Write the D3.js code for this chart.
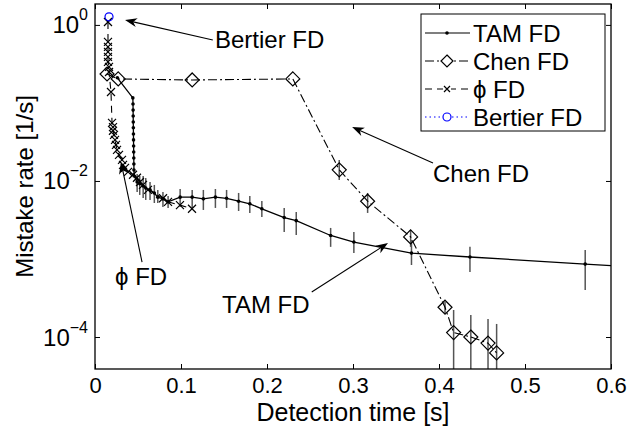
<!DOCTYPE html>
<html>
<head>
<meta charset="utf-8">
<script src="https://cdn.jsdelivr.net/npm/d3@7"></script>
<style>
  body { margin: 0; background: #fff; }
  text { font-family: "Liberation Sans", Arial, sans-serif; fill: #000; }
</style>
</head>
<body>
<svg id="chart" width="628" height="429"></svg>
<script>
// TAM FD (solid line, dots); the first points have no error bars
var tamX = [0.026, 0.044, 0.0442, 0.0443, 0.0444, 0.0445, 0.0446, 0.0447, 0.0448, 0.0449, 0.045, 0.0451, 0.0452, 0.0453, 0.0455,
    0.049, 0.052, 0.056, 0.059, 0.064, 0.069, 0.073, 0.079, 0.085,
    0.099, 0.113, 0.126, 0.140, 0.153, 0.167, 0.180, 0.194,
    0.220, 0.234, 0.274, 0.301, 0.368, 0.436, 0.570, 0.650];
var tamY = [0.21, 0.116, 0.097, 0.081, 0.068, 0.057, 0.048, 0.040, 0.0336, 0.028, 0.0235, 0.0197, 0.0165, 0.0138, 0.0116,
    0.0097, 0.0092, 0.0086, 0.0081, 0.0077, 0.0070, 0.0062, 0.0059, 0.0054,
    0.0062, 0.0062, 0.0059, 0.0062, 0.0060, 0.0055, 0.0051, 0.0044,
    0.0034, 0.0031, 0.0020, 0.00165, 0.00119, 0.00106, 0.00086, 0.00076];
var tamBarX = [0.049, 0.052, 0.056, 0.059, 0.064, 0.069, 0.073, 0.079, 0.085, 0.099, 0.113, 0.126,
    0.140, 0.153, 0.167, 0.180, 0.194, 0.220, 0.234, 0.274, 0.301, 0.368, 0.436, 0.570];
var tamHi = [0.0123, 0.0116, 0.0116, 0.0109, 0.0097, 0.00889, 0.00767, 0.00723, 0.00643, 0.00789, 0.00767, 0.00767,
    0.00789, 0.00767, 0.00702, 0.00643, 0.00554, 0.00451, 0.00401, 0.00250, 0.00222, 0.00175, 0.00143, 0.00130];
var tamLo = [0.00723, 0.00662, 0.00605, 0.00571, 0.00571, 0.00522, 0.00522, 0.00464, 0.00451, 0.00464, 0.00451, 0.00425,
    0.00451, 0.00451, 0.00412, 0.00389, 0.00345, 0.00222, 0.00203, 0.00143, 0.00119, 0.000837, 0.000681, 0.000401];

// Chen FD (dash-dot, diamonds)
var chenX = [0.014, 0.027, 0.113, 0.230, 0.284, 0.317, 0.367, 0.407, 0.417, 0.437, 0.457, 0.467];
var chenY = [0.235, 0.203, 0.197, 0.203, 0.0139, 0.0055, 0.00192, 0.000241, 0.000114, 0.0001, 0.0000835, 0.0000626];
var chenBarX = [0.284, 0.317, 0.367, 0.407, 0.417, 0.437, 0.457, 0.467];
var chenHi = [0.0186, 0.00702, 0.00236, 0.000281, 0.000222, 0.000191, 0.00017, 0.000147];
var chenLo = [0.0103, 0.00389, 0.00143, 0.000203, 0.00001, 0.00001, 0.00001, 0.00001];

// phi FD (dashed, x markers)
var phiX = [0.0151, 0.0151, 0.0151, 0.0151, 0.0151, 0.0151, 0.0163, 0.0163, 0.0186, 0.0198,
    0.0209, 0.0209, 0.0221, 0.0233, 0.0244, 0.0256, 0.0279, 0.0314, 0.0326, 0.0349,
    0.0384, 0.0442, 0.0488, 0.0523, 0.0558, 0.0616, 0.0791, 0.0849, 0.0988, 0.1128];
var phiY = [1.09, 0.605, 0.522, 0.451, 0.389, 0.336, 0.29, 0.249, 0.138, 0.0554,
    0.049, 0.044, 0.039, 0.0336, 0.029, 0.025, 0.0216, 0.0186, 0.0161, 0.0147,
    0.0131, 0.012, 0.011, 0.0097, 0.0089, 0.0077, 0.006, 0.0054, 0.0049, 0.0044];

// Bertier FD (single point)
var bertierX = [0.0163];
var bertierY = [1.27];

var xTicks = [0, 0.1, 0.2, 0.3, 0.4, 0.5, 0.6];
var yTicks = [1e-4, 1e-2, 1];
var yTickExp = ["\u22124", "\u22122", "0"];
var legendNames = ["TAM FD", "Chen FD", "\u03d5 FD", "Bertier FD"];

// annotations: text anchor, arrow tail, arrow tip (data units)
var notes = [
    {label: "Bertier FD", tx: 0.1395, ty: 0.506, ax: 0.137, ay: 0.64, bx: 0.0349, by: 1.155},
    {label: "Chen FD", tx: 0.393, ty: 0.0097, ax: 0.393, ay: 0.0170, bx: 0.299, by: 0.049},
    {label: "TAM FD", tx: 0.1477, ty: 0.000202, ax: 0.252, ay: 0.000377, bx: 0.3407, by: 0.0016},
    {label: "\u03d5 FD", tx: 0.0233, ty: 0.000463, ax: 0.0547, ay: 0.000912, bx: 0.0302, by: 0.0175}
];

var svg = d3.select("#chart");
var plotLeft = 95, plotRight = 611, plotTop = 4, plotBottom = 369;

var x = d3.scaleLinear().domain([0, 0.6]).range([plotLeft, plotRight]);
var y = d3.scaleLog().domain([Math.pow(10, -4.41), Math.pow(10, 0.268)]).range([plotBottom, plotTop]);

svg.append("defs").append("clipPath").attr("id", "plotclip")
    .append("rect").attr("x", plotLeft).attr("y", plotTop)
    .attr("width", plotRight - plotLeft).attr("height", plotBottom - plotTop);

// axes with inward ticks on all four sides
svg.append("g").attr("transform", "translate(0," + plotBottom + ")")
    .call(d3.axisBottom(x).tickValues(xTicks).tickSizeInner(-5).tickSizeOuter(0).tickPadding(8)
        .tickFormat(function(d) { return d === 0 ? "0" : d3.format(".1f")(d); }))
    .call(function(g) {
        g.select(".domain").remove();
        g.selectAll("text").attr("font-size", 22).attr("font-family", null);
    });
svg.append("g").attr("transform", "translate(0," + plotTop + ")")
    .call(d3.axisTop(x).tickValues(xTicks).tickSizeInner(-5).tickSizeOuter(0).tickFormat(""))
    .call(function(g) { g.select(".domain").remove(); });
svg.append("g").attr("transform", "translate(" + plotLeft + ",0)")
    .call(d3.axisLeft(y).tickValues(yTicks).tickSizeInner(-5).tickSizeOuter(0).tickFormat(""))
    .call(function(g) { g.select(".domain").remove(); });
svg.append("g").attr("transform", "translate(" + plotRight + ",0)")
    .call(d3.axisRight(y).tickValues(yTicks).tickSizeInner(-5).tickSizeOuter(0).tickFormat(""))
    .call(function(g) { g.select(".domain").remove(); });

// y tick labels as 10^n
yTicks.forEach(function(v, i) {
    var t = svg.append("text").attr("x", 88).attr("y", y(v) + 8.5)
        .attr("text-anchor", "end").attr("font-size", 24);
    t.append("tspan").text("10");
    t.append("tspan").attr("dy", -13).attr("font-size", 16).text(yTickExp[i]);
});

svg.append("text").attr("x", (plotLeft + plotRight) / 2).attr("y", 421)
    .attr("text-anchor", "middle").attr("font-size", 25).text("Detection time [s]");
svg.append("text").attr("transform", "translate(33," + (plotTop + plotBottom) / 2 + ") rotate(-90)")
    .attr("text-anchor", "middle").attr("font-size", 24).text("Mistake rate [1/s]");

var plot = svg.append("g").attr("clip-path", "url(#plotclip)");

function pts(xs, ys) { return xs.map(function(d, i) { return [d, ys[i]]; }); }
var line = d3.line().x(function(d) { return x(d[0]); }).y(function(d) { return y(d[1]); });

function errorBars(xs, hi, lo) {
    plot.selectAll(null).data(xs).enter().append("line")
        .attr("x1", function(d) { return x(d); }).attr("x2", function(d) { return x(d); })
        .attr("y1", function(d, i) { return y(hi[i]); }).attr("y2", function(d, i) { return y(lo[i]); })
        .attr("stroke", "#555").attr("stroke-width", 1.5);
}

function diamond(g, cx, cy, r) {
    g.append("path").attr("d", "M" + cx + "," + (cy - r) + "L" + (cx + r) + "," + cy + "L" + cx + "," + (cy + r) + "L" + (cx - r) + "," + cy + "Z")
        .attr("fill", "none").attr("stroke", "#000").attr("stroke-width", 1.2);
}
function cross(g, cx, cy, r) {
    g.append("path").attr("d", "M" + (cx - r) + "," + (cy - r) + "L" + (cx + r) + "," + (cy + r) + "M" + (cx - r) + "," + (cy + r) + "L" + (cx + r) + "," + (cy - r))
        .attr("stroke", "#000").attr("stroke-width", 1.2);
}

// TAM
errorBars(tamBarX, tamHi, tamLo);
plot.append("path").attr("d", line(pts(tamX, tamY))).attr("fill", "none").attr("stroke", "#000").attr("stroke-width", 1.3);
plot.selectAll(null).data(pts(tamX, tamY)).enter().append("circle")
    .attr("cx", function(d) { return x(d[0]); }).attr("cy", function(d) { return y(d[1]); })
    .attr("r", 1.8).attr("fill", "#000");

// Chen
errorBars(chenBarX, chenHi, chenLo);
plot.append("path").attr("d", line(pts(chenX, chenY))).attr("fill", "none").attr("stroke", "#000")
    .attr("stroke-width", 1.1).attr("stroke-dasharray", "9,3,2,3");
pts(chenX, chenY).forEach(function(d) { diamond(plot, x(d[0]), y(d[1]), 7); });

// phi
plot.append("path").attr("d", line(pts(phiX, phiY))).attr("fill", "none").attr("stroke", "#000")
    .attr("stroke-width", 1.1).attr("stroke-dasharray", "7,5");
pts(phiX, phiY).forEach(function(d) { cross(plot, x(d[0]), y(d[1]), 4); });

// Bertier
pts(bertierX, bertierY).forEach(function(d) {
    plot.append("circle").attr("cx", x(d[0])).attr("cy", y(d[1])).attr("r", 4)
        .attr("fill", "none").attr("stroke", "#0000ff").attr("stroke-width", 1.2);
});

// box
svg.append("rect").attr("x", plotLeft).attr("y", plotTop)
    .attr("width", plotRight - plotLeft).attr("height", plotBottom - plotTop)
    .attr("fill", "none").attr("stroke", "#000").attr("stroke-width", 1.3);

// annotation arrows
function arrow(g, x1, y1, x2, y2) {
    var a = Math.atan2(y2 - y1, x2 - x1), L = 12, W = 4.5;
    var ux = Math.cos(a), uy = Math.sin(a);
    var bx = x2 - ux * L, by = y2 - uy * L;
    var nx = x2 - ux * L * 0.7, ny = y2 - uy * L * 0.7;
    g.append("line").attr("x1", x1).attr("y1", y1).attr("x2", nx).attr("y2", ny)
        .attr("stroke", "#000").attr("stroke-width", 1.1);
    g.append("path").attr("d", "M" + x2 + "," + y2 + "L" + (bx - uy * W) + "," + (by + ux * W) + "L" + nx + "," + ny + "L" + (bx + uy * W) + "," + (by - ux * W) + "Z")
        .attr("fill", "#000");
}
var ann = svg.append("g");
notes.forEach(function(n) {
    arrow(ann, x(n.ax), y(n.ay), x(n.bx), y(n.by));
    ann.append("text").attr("x", x(n.tx)).attr("y", y(n.ty)).attr("font-size", 24).text(n.label);
});

// legend
var lg = svg.append("g");
lg.append("rect").attr("x", 421).attr("y", 14).attr("width", 184).attr("height", 117)
    .attr("fill", "#fff").attr("stroke", "#000").attr("stroke-width", 1);
var rowY = [33, 61, 89, 117];
var dashes = [null, "9,3,2,3", "7,5", "1.5,3"];
var colors = ["#000", "#000", "#000", "#0000ff"];
legendNames.forEach(function(name, i) {
    var ry = rowY[i];
    var l = lg.append("line").attr("x1", 425).attr("x2", 470).attr("y1", ry).attr("y2", ry)
        .attr("stroke", colors[i]).attr("stroke-width", 1.1);
    if (dashes[i]) l.attr("stroke-dasharray", dashes[i]);
    if (i === 0) lg.append("circle").attr("cx", 447).attr("cy", ry).attr("r", 1.8).attr("fill", "#000");
    if (i === 1) {
        lg.append("rect").attr("x", 441).attr("y", ry - 6).attr("width", 12).attr("height", 12).attr("fill", "#fff");
        diamond(lg, 447, ry, 6);
    }
    if (i === 2) {
        lg.append("rect").attr("x", 443).attr("y", ry - 4).attr("width", 8).attr("height", 8).attr("fill", "#fff");
        cross(lg, 447, ry, 3);
    }
    if (i === 3) {
        lg.append("circle").attr("cx", 447).attr("cy", ry).attr("r", 4).attr("fill", "#fff")
            .attr("stroke", "#0000ff").attr("stroke-width", 1.2);
    }
    lg.append("text").attr("x", 473).attr("y", ry + 8.5).attr("font-size", 24).text(name);
});
</script>
</body>
</html>
